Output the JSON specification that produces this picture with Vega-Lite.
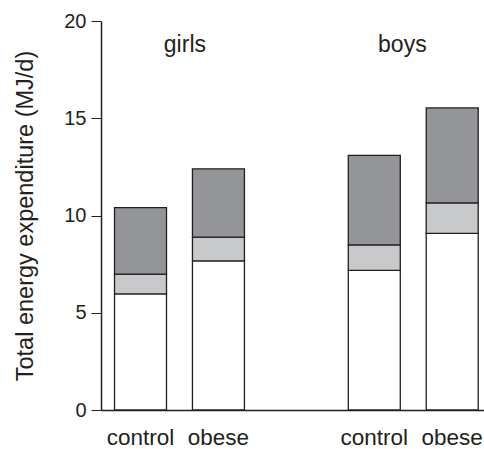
{
  "$schema": "https://vega.github.io/schema/vega-lite/v6.json",
  "width": 383,
  "height": 389,
  "autosize": "none",
  "padding": {"left": 101, "top": 21, "right": 0, "bottom": 39},
  "config": {"view": {"stroke": null}, "font": "Liberation Sans", "axis": {"grid": false}},
  "datasets": {
    "bars": [
      {"bar": "girls control", "component": "BMR", "order": 1, "value": 5.97},
      {"bar": "girls control", "component": "TEF", "order": 2, "value": 1.02},
      {"bar": "girls control", "component": "AEE", "order": 3, "value": 3.42},
      {"bar": "girls obese", "component": "BMR", "order": 1, "value": 7.67},
      {"bar": "girls obese", "component": "TEF", "order": 2, "value": 1.22},
      {"bar": "girls obese", "component": "AEE", "order": 3, "value": 3.51},
      {"bar": "boys control", "component": "BMR", "order": 1, "value": 7.18},
      {"bar": "boys control", "component": "TEF", "order": 2, "value": 1.31},
      {"bar": "boys control", "component": "AEE", "order": 3, "value": 4.60},
      {"bar": "boys obese", "component": "BMR", "order": 1, "value": 9.08},
      {"bar": "boys obese", "component": "TEF", "order": 2, "value": 1.57},
      {"bar": "boys obese", "component": "AEE", "order": 3, "value": 4.88}
    ]
  },
  "layer": [
    {
      "data": {"name": "bars"},
      "mark": {"type": "bar", "stroke": "#231f20", "strokeWidth": 1.3},
      "encoding": {
        "x": {
          "field": "bar",
          "type": "nominal",
          "sort": null,
          "scale": {
            "domain": ["girls control", "girls obese", "gap", "boys control", "boys obese"],
            "paddingInner": 0.333,
            "paddingOuter": 0.124,
            "align": 0.7
          },
          "axis": {
            "title": null,
            "ticks": false,
            "tickSize": 0,
            "labelAngle": 0,
            "labelExpr": "datum.value == 'gap' ? '' : split(datum.value, ' ')[1]",
            "labelFontSize": 22.5,
            "labelFont": "Liberation Sans",
            "labelColor": "#231f20",
            "labelBaseline": "alphabetic",
            "labelPadding": 34,
            "domainColor": "#231f20",
            "domainWidth": 1.5
          }
        },
        "y": {
          "field": "value",
          "type": "quantitative",
          "stack": "zero",
          "scale": {"domain": [0, 20], "nice": false},
          "axis": {
            "values": [0, 5, 10, 15, 20],
            "title": "Total energy expenditure (MJ/d)",
            "titleFont": "Liberation Sans",
            "titleFontSize": 23.5,
            "titleFontWeight": "normal",
            "titleColor": "#231f20",
            "titleBaseline": "alphabetic",
            "titleX": -69,
            "labelFontSize": 20,
            "labelFont": "Liberation Sans",
            "labelColor": "#231f20",
            "labelPadding": 5,
            "tickSize": 10,
            "tickColor": "#231f20",
            "tickWidth": 1,
            "domainColor": "#231f20",
            "domainWidth": 1.5
          }
        },
        "color": {
          "field": "component",
          "type": "nominal",
          "scale": {"domain": ["BMR", "TEF", "AEE"], "range": ["#ffffff", "#c8c9cb", "#939598"]},
          "legend": null
        },
        "order": {"field": "order", "type": "quantitative"}
      }
    },
    {
      "data": {"values": [{"bar": "girls control", "label": "girls", "y": 18.41}]},
      "mark": {"type": "text", "fontSize": 23, "font": "Liberation Sans", "color": "#231f20", "baseline": "alphabetic", "align": "center"},
      "encoding": {
        "x": {"field": "bar", "type": "nominal", "bandPosition": 1.354},
        "y": {"field": "y", "type": "quantitative"},
        "text": {"field": "label"}
      }
    },
    {
      "data": {"values": [{"bar": "boys control", "label": "boys", "y": 18.41}]},
      "mark": {"type": "text", "fontSize": 23, "font": "Liberation Sans", "color": "#231f20", "baseline": "alphabetic", "align": "center"},
      "encoding": {
        "x": {"field": "bar", "type": "nominal", "bandPosition": 1.04},
        "y": {"field": "y", "type": "quantitative"},
        "text": {"field": "label"}
      }
    }
  ]
}
